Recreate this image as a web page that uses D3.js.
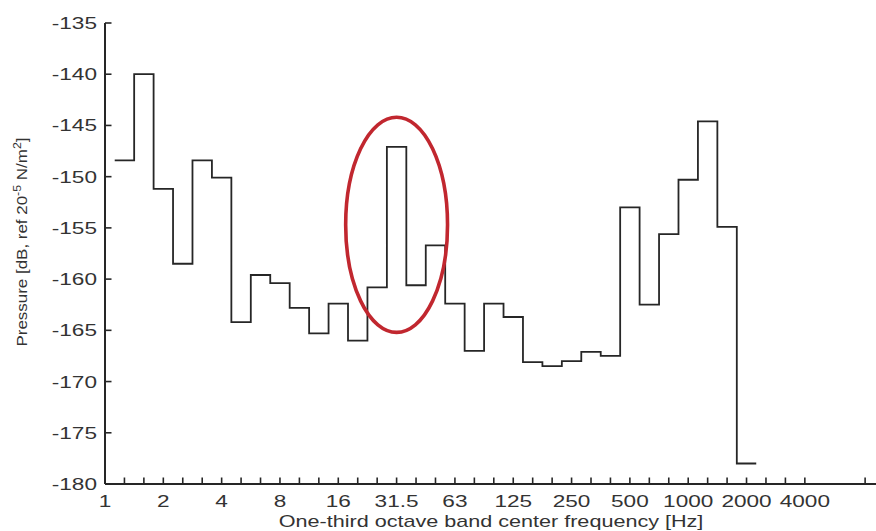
<!DOCTYPE html>
<html>
<head>
<meta charset="utf-8">
<script src="https://cdn.jsdelivr.net/npm/d3@7/dist/d3.min.js"></script>
<style>
  html, body { margin: 0; padding: 0; background: #fff; }
  svg { display: block; }
  text { font-family: "Liberation Sans", Arial, sans-serif; fill: #333; }
</style>
</head>
<body>
<svg id="chart" width="876" height="531"></svg>
<script>
// One-third octave band centre frequencies (Hz) of the measured bands
const bands = ["1.25","1.6","2","2.5","3.15","4","5","6.3","8","10","12.5","16","20","25",
  "31.5","40","50","63","80","100","125","160","200","250","315","400","500","630","800",
  "1000","1250","1600","2000"];
// Band pressure level, dB re 20e-5 N/m^2
const levels = [-148.4,-140.0,-151.2,-158.5,-148.4,-150.1,-164.2,-159.6,-160.4,-162.8,
  -165.3,-162.4,-166.0,-160.8,-147.1,-160.6,-156.7,-162.4,-167.0,-162.4,-163.7,-168.1,
  -168.5,-168.0,-167.1,-167.5,-153.0,-162.5,-155.6,-150.3,-144.6,-154.9,-178.0];
// Axis tick labels (one per octave) and the tick positions in band-index units
const xTickLabels = ["1","2","4","8","16","31.5","63","125","250","500","1000","2000","4000"];
const xTickIndex = d3.range(0, 37).concat([39.1]);
const yTicks = [-135,-140,-145,-150,-155,-160,-165,-170,-175,-180];
// Highlighted region: the 31.5 Hz band peak
const highlightBand = "31.5";
const highlightRange = [-165.2, -144.2];
const highlightHalfWidth = 2.62;

const svg = d3.select("#chart");
const mLeft = 105, mRight = 876, mTop = 23, mBottom = 484;
const SX = 1.33; // horizontal stretch of the axis font

// x: band index (0 = 1 Hz, one unit per third octave)
const x = d3.scaleLinear().domain([0, 39.66]).range([mLeft, mRight]);
const y = d3.scaleLinear().domain([-180, -135]).range([mBottom, mTop]);

const ink = "#262626";

// Step curve: each band drawn as a flat segment one third-octave wide
const pts = levels.map((v, i) => [i + 1 - 0.5, v]);
pts.push([levels.length + 0.5, levels[levels.length - 1]]);
const line = d3.line().x(d => x(d[0])).y(d => y(d[1])).curve(d3.curveStepAfter);
svg.append("path").attr("d", line(pts))
  .attr("fill", "none").attr("stroke", ink).attr("stroke-width", 1.8);

// Axes (left and bottom only, ticks pointing inward)
const gx = svg.append("g").attr("transform", `translate(0,${mBottom})`);
gx.append("line").attr("x1", mLeft).attr("x2", mRight + 2).attr("y1", 0).attr("y2", 0)
  .attr("stroke", ink).attr("stroke-width", 2);
gx.selectAll("line.tick").data(xTickIndex).join("line").attr("class", "tick")
  .attr("x1", d => x(d)).attr("x2", d => x(d)).attr("y1", 0).attr("y2", -6.5)
  .attr("stroke", ink).attr("stroke-width", 1.6);
gx.selectAll("text").data(xTickLabels).join("text")
  .attr("transform", (d, i) => `translate(${x(i * 3)},22.5) scale(${SX},1)`)
  .attr("text-anchor", "middle").attr("font-size", 17).text(d => d);

const gy = svg.append("g").attr("transform", `translate(${mLeft},0)`);
gy.append("line").attr("x1", 0).attr("x2", 0).attr("y1", mTop).attr("y2", mBottom)
  .attr("stroke", ink).attr("stroke-width", 2);
gy.selectAll("line.tick").data(yTicks).join("line").attr("class", "tick")
  .attr("x1", 0).attr("x2", 6.5).attr("y1", d => y(d)).attr("y2", d => y(d))
  .attr("stroke", ink).attr("stroke-width", 1.6);
gy.selectAll("text").data(yTicks).join("text")
  .attr("transform", d => `translate(-8,${y(d) + 6}) scale(${SX},1)`)
  .attr("text-anchor", "end").attr("font-size", 17).text(d => d);

// Axis titles
svg.append("text")
  .attr("transform", `translate(${(mLeft + mRight) / 2 + 0.5},527) scale(1.27,1)`)
  .attr("text-anchor", "middle").attr("font-size", 17)
  .text("One-third octave band center frequency [Hz]");

const yl = svg.append("text")
  .attr("transform", `translate(27,242) rotate(-90) scale(1.13,1)`)
  .attr("text-anchor", "middle").attr("font-size", 15);
yl.append("tspan").text("Pressure [dB, ref 20");
yl.append("tspan").attr("font-size", 11).attr("dy", -6).text("-5");
yl.append("tspan").attr("dy", 6).text(" N/m");
yl.append("tspan").attr("font-size", 11).attr("dy", -6).text("2");
yl.append("tspan").attr("dy", 6).text("]");

// Highlight ellipse around the 31.5 Hz peak
const hi = bands.indexOf(highlightBand) + 1;
const cx = x(hi), cy = (y(highlightRange[0]) + y(highlightRange[1])) / 2;
svg.append("ellipse")
  .attr("cx", cx).attr("cy", cy)
  .attr("rx", x(hi + highlightHalfWidth) - cx)
  .attr("ry", (y(highlightRange[0]) - y(highlightRange[1])) / 2)
  .attr("fill", "none").attr("stroke", "#c1272f").attr("stroke-width", 3.6);
</script>
</body>
</html>
